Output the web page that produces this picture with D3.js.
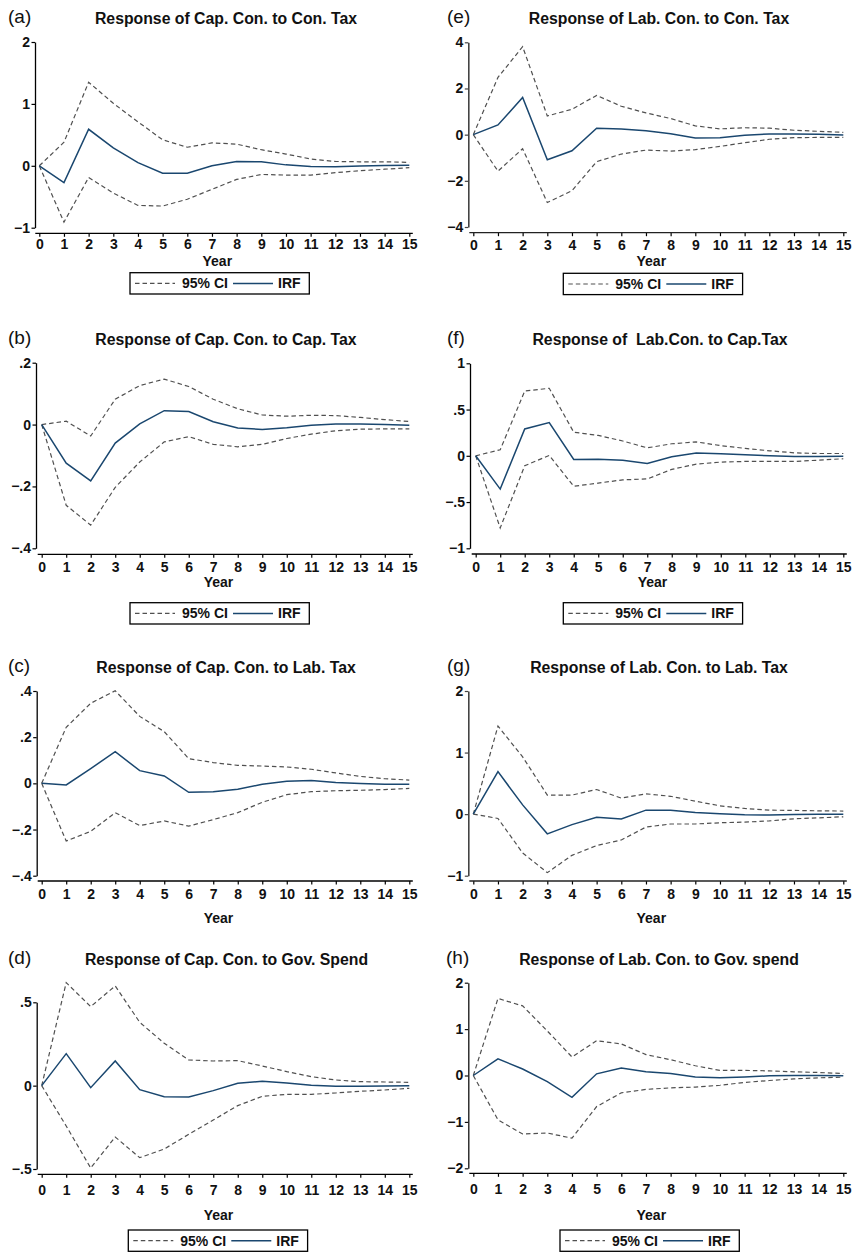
<!DOCTYPE html>
<html>
<head>
<meta charset="utf-8">
<script src="https://cdn.jsdelivr.net/npm/d3@7"></script>
<style>
  html, body { margin: 0; padding: 0; background: #fff; }
  svg { display: block; font-family: "Liberation Sans", Arial, sans-serif; }
  text { white-space: pre; }
</style>
</head>
<body>
<div id="chart"></div>
<script>
// years after the shock
const years = [0, 1, 2, 3, 4, 5, 6, 7, 8, 9, 10, 11, 12, 13, 14, 15];

// (a) Cap. Con. to Con. Tax
const aTitle = 'Response of Cap. Con. to Con. Tax';
const aTicks = [-1, 0, 1, 2];
const aUpper = [0, 0.38, 1.35, 1.01, 0.71, 0.42, 0.30, 0.37, 0.35, 0.26, 0.19, 0.11, 0.07, 0.065, 0.065, 0.055];
const aIrf   = [0, -0.27, 0.59, 0.29, 0.05, -0.12, -0.12, 0.0, 0.07, 0.065, 0.015, -0.01, -0.015, -0.005, 0.005, 0.01];
const aLower = [0, -0.91, -0.19, -0.44, -0.64, -0.65, -0.54, -0.38, -0.22, -0.14, -0.15, -0.15, -0.11, -0.08, -0.055, -0.03];

// (b) Cap. Con. to Cap. Tax
const bTitle = 'Response of Cap. Con. to Cap. Tax';
const bTicks = [-0.4, -0.2, 0, 0.2];
const bUpper = [0, 0.011, -0.037, 0.082, 0.126, 0.147, 0.123, 0.082, 0.051, 0.031, 0.027, 0.030, 0.029, 0.023, 0.016, 0.010];
const bIrf   = [0, -0.125, -0.182, -0.060, 0.002, 0.045, 0.042, 0.009, -0.011, -0.016, -0.010, -0.002, 0.002, 0.002, 0, -0.002];
const bLower = [0, -0.261, -0.325, -0.203, -0.121, -0.056, -0.039, -0.064, -0.072, -0.064, -0.045, -0.031, -0.020, -0.015, -0.014, -0.014];

// (c) Cap. Con. to Lab. Tax
const cTitle = 'Response of Cap. Con. to Lab. Tax';
const cTicks = [-0.4, -0.2, 0, 0.2, 0.4];
const cUpper = [0, 0.243, 0.347, 0.401, 0.290, 0.224, 0.107, 0.090, 0.078, 0.075, 0.071, 0.061, 0.045, 0.030, 0.020, 0.014];
const cIrf   = [0, -0.007, 0.064, 0.137, 0.055, 0.032, -0.039, -0.036, -0.026, -0.004, 0.009, 0.012, 0.004, -0.001, -0.004, -0.004];
const cLower = [0, -0.250, -0.208, -0.127, -0.183, -0.163, -0.185, -0.157, -0.127, -0.082, -0.049, -0.036, -0.032, -0.030, -0.027, -0.022];

// (d) Cap. Con. to Gov. Spend
const dTitle = 'Response of Cap. Con. to Gov. Spend';
const dTicks = [-0.5, 0, 0.5];
const dUpper = [0, 0.618, 0.474, 0.598, 0.38, 0.254, 0.154, 0.148, 0.15, 0.118, 0.084, 0.054, 0.034, 0.024, 0.022, 0.02];
const dIrf   = [0, 0.192, -0.012, 0.148, -0.024, -0.066, -0.068, -0.03, 0.014, 0.026, 0.016, 0.002, -0.004, -0.004, -0.002, 0];
const dLower = [0, -0.242, -0.494, -0.308, -0.432, -0.38, -0.292, -0.206, -0.12, -0.064, -0.052, -0.052, -0.044, -0.034, -0.026, -0.016];

// (e) Lab. Con. to Con. Tax
const eTitle = 'Response of Lab. Con. to Con. Tax';
const eTicks = [-4, -2, 0, 2, 4];
const eUpper = [0, 2.48, 3.81, 0.81, 1.10, 1.70, 1.23, 0.94, 0.70, 0.38, 0.25, 0.30, 0.28, 0.19, 0.145, 0.10];
const eIrf   = [0, 0.42, 1.61, -1.09, -0.70, 0.28, 0.25, 0.17, 0.04, -0.14, -0.13, -0.03, 0.03, 0.03, 0.015, -0.015];
const eLower = [0, -1.58, -0.61, -2.94, -2.43, -1.17, -0.84, -0.67, -0.71, -0.65, -0.51, -0.35, -0.20, -0.13, -0.12, -0.12];

// (f) Lab. Con. to Cap. Tax
const fTitle = 'Response of  Lab.Con. to Cap.Tax';
const fTicks = [-1, -0.5, 0, 0.5, 1];
const fUpper = [0, 0.065, 0.70, 0.73, 0.255, 0.22, 0.16, 0.086, 0.13, 0.15, 0.11, 0.08, 0.054, 0.032, 0.025, 0.025];
const fIrf   = [0, -0.36, 0.29, 0.36, -0.04, -0.036, -0.047, -0.083, -0.011, 0.029, 0.022, 0.011, 0, -0.007, -0.007, -0.004];
const fLower = [0, -0.78, -0.108, 0.004, -0.33, -0.295, -0.26, -0.25, -0.147, -0.09, -0.068, -0.061, -0.061, -0.061, -0.047, -0.032];

// (g) Lab. Con. to Lab. Tax
const gTitle = 'Response of Lab. Con. to Lab. Tax';
const gTicks = [-1, 0, 1, 2];
const gUpper = [0, 1.43, 0.93, 0.31, 0.31, 0.40, 0.26, 0.33, 0.29, 0.21, 0.135, 0.092, 0.065, 0.06, 0.054, 0.05];
const gIrf   = [0, 0.69, 0.15, -0.32, -0.17, -0.05, -0.08, 0.065, 0.065, 0.027, 0.005, -0.01, -0.016, -0.005, 0, 0];
const gLower = [0, -0.07, -0.63, -0.95, -0.67, -0.51, -0.42, -0.21, -0.16, -0.16, -0.14, -0.13, -0.11, -0.076, -0.06, -0.043];

// (h) Lab. Con. to Gov. spend
const hTitle = 'Response of Lab. Con. to Gov. spend';
const hTicks = [-2, -1, 0, 1, 2];
const hUpper = [0, 1.66, 1.50, 0.96, 0.40, 0.75, 0.68, 0.45, 0.34, 0.21, 0.11, 0.11, 0.10, 0.08, 0.065, 0.043];
const hIrf   = [0, 0.36, 0.14, -0.13, -0.47, 0.036, 0.16, 0.08, 0.043, -0.03, -0.05, -0.03, -0.007, 0, 0, -0.007];
const hLower = [0, -0.955, -1.26, -1.24, -1.35, -0.67, -0.373, -0.30, -0.266, -0.25, -0.21, -0.15, -0.108, -0.072, -0.05, -0.036];

const legendLabels = ['95% CI', 'IRF'];

// placement of each panel on the page
const panels = [
  { label: '(a)', title: aTitle, ticks: aTicks, upper: aUpper, irf: aIrf, lower: aLower,
    lx: 8, tx: 226, ty: 24, x0: 39.3, x1: 409.3, yt: 42, yb: 227.7, ax: 35, ay: 233.3, tg: 16, yearY: 265.7,
    legend: [130, 272.7], axisColor: '#000' },
  { label: '(b)', title: bTitle, ticks: bTicks, upper: bUpper, irf: bIrf, lower: bLower,
    lx: 8, tx: 226, ty: 345, x0: 41.7, x1: 409.3, yt: 362.7, yb: 548.3, ax: 36, ay: 554.3, tg: 17.4, yearY: 586.7,
    legend: [130, 602.7], axisColor: '#000' },
  { label: '(c)', title: cTitle, ticks: cTicks, upper: cUpper, irf: cIrf, lower: cLower,
    lx: 8, tx: 226, ty: 673.3, x0: 41.7, x1: 409.3, yt: 691, yb: 875.7, ax: 36.7, ay: 881, tg: 18.3, yearY: 922.7,
    legend: null, axisColor: '#000' },
  { label: '(d)', title: dTitle, ticks: dTicks, upper: dUpper, irf: dIrf, lower: dLower,
    lx: 8, tx: 226.5, ty: 965, x0: 41.7, x1: 409.3, yt: 1002.3, yb: 1169, ax: 36.7, ay: 1174.3, tg: 20.7, yearY: 1220,
    legend: [128.3, 1230], axisColor: '#000' },
  { label: '(e)', title: eTitle, ticks: eTicks, upper: eUpper, irf: eIrf, lower: eLower,
    lx: 447, tx: 659, ty: 24, x0: 473.3, x1: 843.3, yt: 42.3, yb: 227, ax: 468.3, ay: 232.7, tg: 17, yearY: 265.7,
    legend: [563.3, 273.3], axisColor: '#444' },
  { label: '(f)', title: fTitle, ticks: fTicks, upper: fUpper, irf: fIrf, lower: fLower,
    lx: 447, tx: 660, ty: 345, x0: 475.7, x1: 843.3, yt: 363.3, yb: 548.3, ax: 470, ay: 554, tg: 17.7, yearY: 586.7,
    legend: [563.3, 602.7], axisColor: '#000' },
  { label: '(g)', title: gTitle, ticks: gTicks, upper: gUpper, irf: gIrf, lower: gLower,
    lx: 447, tx: 659, ty: 673.3, x0: 473.3, x1: 843.3, yt: 691, yb: 875.7, ax: 468.3, ay: 881, tg: 18.3, yearY: 922.7,
    legend: null, axisColor: '#444' },
  { label: '(h)', title: hTitle, ticks: hTicks, upper: hUpper, irf: hIrf, lower: hLower,
    lx: 446, tx: 659, ty: 965, x0: 473.3, x1: 843.3, yt: 982.7, yb: 1168.3, ax: 468.3, ay: 1173.3, tg: 21, yearY: 1220,
    legend: [560, 1230], axisColor: '#111' }
];

const W = 853, H = 1252;
const navy = '#1a476f';
const ciColor = '#505050';
const dash = '4.5,3';
const tickFont = 14;

const svg = d3.select('#chart').append('svg')
  .attr('width', W)
  .attr('height', H);

// .2 / −.4 style labels, like Stata
const fmt = v => {
  if (v === 0) return '0';
  const a = Math.abs(v);
  const s = a < 1 ? String(a).replace(/^0/, '') : String(a);
  return (v < 0 ? '\u2212' : '') + s;
};

panels.forEach(p => {
  const g = svg.append('g');

  const x = d3.scaleLinear()
    .domain(d3.extent(years))
    .range([p.x0, p.x1]);

  const y = d3.scaleLinear()
    .domain(d3.extent(p.ticks))
    .range([p.yb, p.yt]);

  // panel letter and title
  g.append('text')
    .attr('x', p.lx)
    .attr('y', p.ty - 1)
    .attr('font-size', 19)
    .attr('fill', '#111')
    .text(p.label);

  g.append('text')
    .attr('x', p.tx)
    .attr('y', p.ty)
    .attr('text-anchor', 'middle')
    .attr('font-size', 15.8)
    .attr('font-weight', 'bold')
    .attr('fill', '#111')
    .text(p.title);

  // y axis
  const yAxis = g.append('g')
    .attr('transform', 'translate(' + p.ax + ',0)')
    .attr('font-size', tickFont)
    .call(d3.axisLeft(y).tickValues(p.ticks).tickFormat(fmt).tickSize(3.5).tickSizeOuter(0).tickPadding(1.5));
  yAxis.attr('font-size', tickFont).attr('font-family', null);
  yAxis.select('.domain').attr('stroke', p.axisColor).attr('stroke-width', p.axisColor === '#444' ? 1.6 : 1.3);
  yAxis.selectAll('.tick line').attr('stroke', p.axisColor).attr('stroke-width', 1.2);
  yAxis.selectAll('.tick text')
    .attr('font-size', tickFont)
    .attr('font-weight', 'bold')
    .attr('fill', '#111');

  // x axis
  const xAxis = g.append('g')
    .attr('transform', 'translate(0,' + p.ay + ')')
    .call(d3.axisBottom(x).tickValues(years).tickSize(3.5).tickSizeOuter(0).tickPadding(p.tg - 3.5 - 0.71 * tickFont));
  xAxis.attr('font-size', tickFont).attr('font-family', null);
  xAxis.select('.domain').remove();
  xAxis.append('line')
    .attr('x1', x(0) - 4)
    .attr('x2', x(15) + 3.5)
    .attr('stroke', p.axisColor === '#444' ? '#222' : '#000')
    .attr('stroke-width', 1.3);
  xAxis.selectAll('.tick line').attr('stroke', '#000').attr('stroke-width', 1.2);
  xAxis.selectAll('.tick text')
    .attr('font-size', tickFont)
    .attr('font-weight', 'bold')
    .attr('fill', '#111');

  g.append('text')
    .attr('x', (p.x0 + p.x1) / 2 - 7)
    .attr('y', p.yearY)
    .attr('text-anchor', 'middle')
    .attr('font-size', 14)
    .attr('font-weight', 'bold')
    .attr('fill', '#111')
    .text('Year');

  // lines
  const line = d3.line()
    .x((d, i) => x(years[i]))
    .y(d => y(d));

  [p.upper, p.lower].forEach(s => {
    g.append('path')
      .attr('d', line(s))
      .attr('fill', 'none')
      .attr('stroke', ciColor)
      .attr('stroke-width', 1.2)
      .attr('stroke-dasharray', dash);
  });

  g.append('path')
    .attr('d', line(p.irf))
    .attr('fill', 'none')
    .attr('stroke', navy)
    .attr('stroke-width', 1.5);

  // legend
  if (p.legend) {
    const lg = g.append('g')
      .attr('transform', 'translate(' + p.legend[0] + ',' + p.legend[1] + ')');
    lg.append('rect')
      .attr('width', 179.3)
      .attr('height', 21.3)
      .attr('fill', '#fff')
      .attr('stroke', '#000')
      .attr('stroke-width', 1.3);
    lg.append('line')
      .attr('x1', 5).attr('x2', 45)
      .attr('y1', 10.7).attr('y2', 10.7)
      .attr('stroke', ciColor)
      .attr('stroke-width', 1.2)
      .attr('stroke-dasharray', dash);
    lg.append('text')
      .attr('x', 52).attr('y', 15.5)
      .attr('font-size', 14)
      .attr('font-weight', 'bold')
      .attr('fill', '#111')
      .text(legendLabels[0]);
    lg.append('line')
      .attr('x1', 103).attr('x2', 143)
      .attr('y1', 10.7).attr('y2', 10.7)
      .attr('stroke', navy)
      .attr('stroke-width', 1.5);
    lg.append('text')
      .attr('x', 148).attr('y', 15.5)
      .attr('font-size', 14)
      .attr('font-weight', 'bold')
      .attr('fill', '#111')
      .text(legendLabels[1]);
  }
});
</script>
</body>
</html>
